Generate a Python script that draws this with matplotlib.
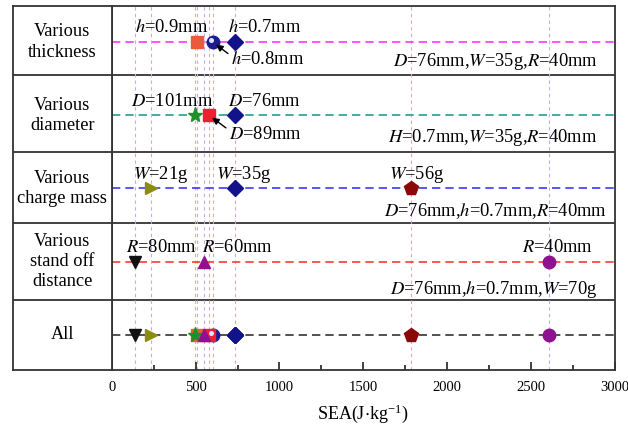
import matplotlib.pyplot as plt
from matplotlib.ticker import MultipleLocator
from matplotlib.transforms import ScaledTranslation

plt.rcParams["font.family"] = ["Liberation Serif", "DejaVu Serif"]
plt.rcParams["mathtext.fontset"] = "stix"

# groups, top to bottom
groups = ["Various\nthickness", "Various\ndiameter", "Various\ncharge mass",
          "Various\nstand off\ndistance", "All"]
group_y = [5, 4, 3, 2, 1]
line_colors = ["#ff33ff", "#2a9a9a", "#3a3aff", "#ff3a3a", "#333333"]
fixed_notes = [r"$D$=76mm,$W$=35g,$R$=40mm",
               r"$H$=0.7mm,$W$=35g,$R$=40mm",
               r"$D$=76mm,$h$=0.7mm,$R$=40mm",
               r"$D$=76mm,$h$=0.7mm,$W$=70g",
               None]

# SEA values per case (J/kg)
thickness_labels = [r"$h$=0.9mm", r"$h$=0.8mm", r"$h$=0.7mm"]
thickness_sea = [511, 602, 733]
diameter_labels = [r"$D$=101mm", r"$D$=89mm", r"$D$=76mm"]
diameter_sea = [499, 578, 733]
charge_labels = [r"$W$=21g", r"$W$=35g", r"$W$=56g"]
charge_sea = [233, 733, 1783]
standoff_labels = [r"$R$=80mm", r"$R$=60mm", r"$R$=40mm"]
standoff_sea = [141, 549, 2606]

thickness_style = [("s", "#ec5a3c", 8), ("o", "#1c1c8e", 9), ("D", "#12128a", 8)]
diameter_style = [("*", "#1f8f2a", 11), ("s", "#ee1f30", 8), ("D", "#12128a", 8)]
charge_style = [(">", "#8c8c12", 9), ("D", "#12128a", 8), ("p", "#8b0808", 10)]
standoff_style = [("v", "#111111", 9), ("^", "#8e1290", 9), ("o", "#8e1290", 9)]

fig = plt.figure(figsize=(6.28, 4.32), dpi=100)
ax = fig.add_axes([0.178, 0.1435, 0.801, 0.8425])
lab = fig.add_axes([0.0207, 0.1435, 0.1573, 0.8425])

ylim = (0.52, 5.49)
separators = [4.55, 3.5, 2.53, 1.48]
edge = "#333333"

for a in (ax, lab):
    a.set_ylim(*ylim)
    for s in a.spines.values():
        s.set_color(edge)
        s.set_linewidth(1.3)
    for sy in separators:
        a.axhline(sy, color=edge, lw=1.3, zorder=1)

lab.set_xlim(0, 1)
lab.set_xticks([])
lab.set_yticks([])
for name, gy in zip(groups, group_y):
    lab.text(0.5, gy, name, ha="center", va="center", fontsize=13.2,
             linespacing=1.25)

ax.set_xlim(0, 3000)
ax.set_yticks([])
ax.xaxis.set_major_locator(MultipleLocator(500))
ax.xaxis.set_minor_locator(MultipleLocator(250))
ax.tick_params(axis="x", which="major", direction="in", length=6, width=1.3,
               labelsize=10.5, color=edge, pad=8)
ax.tick_params(axis="x", which="minor", direction="in", length=3.5, width=1.3,
               color=edge)
ax.set_xlabel(r"SEA(J$\cdot$kg$^{\mathregular{-1}}$)", fontsize=13, labelpad=6)

all_sea = thickness_sea + diameter_sea + charge_sea + standoff_sea
for xv in sorted(set(all_sea)):
    ax.axvline(xv, color="#c9a8ee", lw=0.8, ls=(0, (3, 3)), zorder=1)

for gy, c in zip(group_y, line_colors):
    ax.axhline(gy, color=c, lw=1.2, ls=(0, (5, 3)), zorder=2)

series = [(thickness_sea, thickness_style, 5),
          (diameter_sea, diameter_style, 4),
          (charge_sea, charge_style, 3),
          (standoff_sea, standoff_style, 2)]
for vals, styles, gy in series:
    for xv, (m, c, ms) in zip(vals, styles):
        for row in (gy, 1):
            ax.plot(xv, row, marker=m, color=c, ms=ms, mec=c, ls="none",
                    zorder=4)

# small shine spot on the ball marker (h=0.8mm)
shine = ax.transData + ScaledTranslation(-1.6 / 72, 1.6 / 72, fig.dpi_scale_trans)
for row in (5, 1):
    ax.plot(thickness_sea[1], row, marker="o", color="#dfe4ff", ms=2.6,
            ls="none", zorder=5, transform=shine)

fs = 13.3
arrow = dict(arrowstyle="-|>", color="black", lw=1, shrinkA=0, shrinkB=3,
             mutation_scale=10, relpos=(0.0, 0.75))


def label_at(x, y, text, dx, dy, ha="left"):
    # dx, dy: offset from the marker in pixels
    ax.annotate(text, xy=(x, y), xytext=(dx, dy), textcoords="offset pixels",
                ha=ha, va="center", fontsize=fs)


# thickness row
label_at(thickness_sea[0], 5, thickness_labels[0], -26, 14, ha="center")
label_at(thickness_sea[2], 5, thickness_labels[2], -7, 14)
ax.annotate(thickness_labels[1], xy=(thickness_sea[1], 5),
            xytext=(18, -18), textcoords="offset pixels", fontsize=fs,
            va="center", zorder=6, arrowprops=arrow)
# diameter row
label_at(diameter_sea[0], 4, diameter_labels[0], -23, 14, ha="center")
label_at(diameter_sea[2], 4, diameter_labels[2], -7, 14)
ax.annotate(diameter_labels[1], xy=(diameter_sea[1], 4),
            xytext=(20, -19), textcoords="offset pixels", fontsize=fs,
            va="center", zorder=6, arrowprops=arrow)
# charge mass row
for xv, t, dx in zip(charge_sea, charge_labels, [-18, -19, -22]):
    label_at(xv, 3, t, dx, 14)
# stand off row
for xv, t, dx in zip(standoff_sea, standoff_labels, [-9, -2, -27]):
    label_at(xv, 2, t, dx, 14)

note_x = [2898, 2898, 2952, 2898]
note_y = [4.73, 3.69, 2.69, 1.62]
for note, nx, ny in zip(fixed_notes, note_x, note_y):
    if note:
        ax.text(nx, ny, note, ha="right", va="center", fontsize=fs)

fig.savefig("out.png", dpi=100)
